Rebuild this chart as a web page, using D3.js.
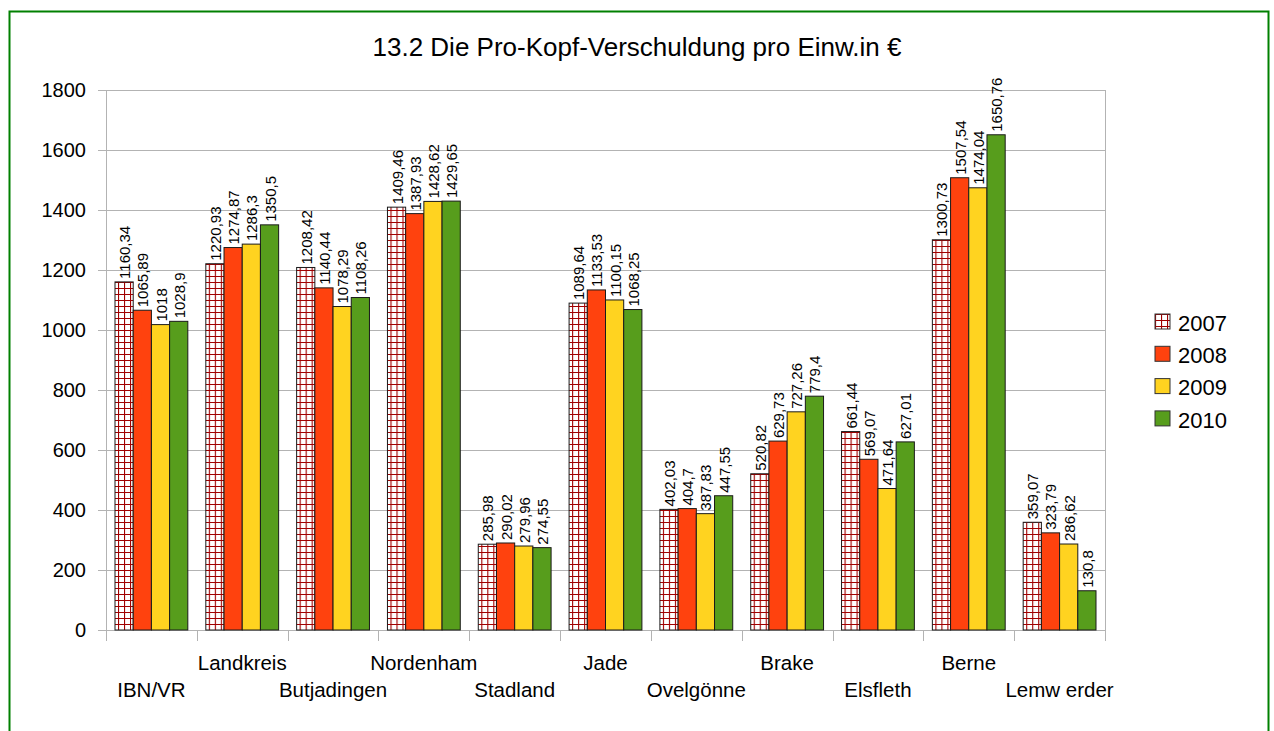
<!DOCTYPE html>
<html>
<head>
<meta charset="utf-8">
<script src="https://cdn.jsdelivr.net/npm/d3@7"></script>
<style>
  body { margin: 0; background: #fff; }
  svg { font-family: "Liberation Sans", Arial, sans-serif; }
</style>
</head>
<body>
<div id="chart"></div>
<script>
const categories = ["IBN/VR", "Landkreis", "Butjadingen", "Nordenham", "Stadland", "Jade",
    "Ovelgönne", "Brake", "Elsfleth", "Berne", "Lemw erder"]
const years = ["2007", "2008", "2009", "2010"]
const values2007 = [1160.34, 1220.93, 1208.42, 1409.46, 285.98, 1089.64, 402.03, 520.82, 661.44, 1300.73, 359.07]
const values2008 = [1065.89, 1274.87, 1140.44, 1387.93, 290.02, 1133.53, 404.7, 629.73, 569.07, 1507.54, 323.79]
const values2009 = [1018, 1286.3, 1078.29, 1428.62, 279.96, 1100.15, 387.83, 727.26, 471.64, 1474.04, 286.62]
const values2010 = [1028.9, 1350.5, 1108.26, 1429.65, 274.55, 1068.25, 447.55, 779.4, 627.01, 1650.76, 130.8]
const yTicks = [0, 200, 400, 600, 800, 1000, 1200, 1400, 1600, 1800]

const series = [values2007, values2008, values2009, values2010]
const colors = ["url(#hatch)", "#ff420e", "#ffd320", "#579d1c"]

const margin = {top: 90, right: 169, bottom: 101, left: 106}
const width = 1274 - margin.left - margin.right
const height = 731 - margin.top - margin.bottom

const root = d3.select("#chart").append("svg")
    .attr("width", 1274)
    .attr("height", 731)

// hatch pattern for 2007
const pat = root.append("defs").append("pattern")
    .attr("id", "hatch")
    .attr("patternUnits", "userSpaceOnUse")
    .attr("width", 6).attr("height", 6)
pat.append("rect").attr("width", 6).attr("height", 6).attr("fill", "#fff")
pat.append("path").attr("d", "M0,0.5H6M0.5,0V6")
    .attr("stroke", "#a00000").attr("stroke-width", 1.2).attr("fill", "none")

// outer green frame
root.append("rect")
    .attr("x", 9.5).attr("y", 11.5)
    .attr("width", 1259).attr("height", 740)
    .attr("fill", "none").attr("stroke", "#008000").attr("stroke-width", 2)

root.append("text")
    .attr("x", 637).attr("y", 56)
    .attr("text-anchor", "middle")
    .style("font-size", "26px")
    .text("13.2 Die Pro-Kopf-Verschuldung pro Einw.in €")

const svg = root.append("g")
    .attr("transform", `translate(${margin.left},${margin.top})`)

const xScale = d3.scaleBand()
    .domain(categories)
    .range([0, width])

const inner = d3.scaleBand()
    .domain(years)
    .range([9, xScale.bandwidth() - 9])

const yScale = d3.scaleLinear()
    .domain([0, 1800])
    .range([height, 0])

// gridlines
svg.append("g")
    .selectAll("line")
    .data(yTicks)
    .join("line")
        .attr("x1", -8).attr("x2", width)
        .attr("y1", d => yScale(d) + 0.5).attr("y2", d => yScale(d) + 0.5)
        .attr("stroke", "#b3b3b3")

// y axis line and labels
svg.append("line")
    .attr("x1", 0.5).attr("x2", 0.5)
    .attr("y1", 0).attr("y2", height)
    .attr("stroke", "#b3b3b3")
svg.append("line")
    .attr("x1", width + 0.5).attr("x2", width + 0.5)
    .attr("y1", 0).attr("y2", height)
    .attr("stroke", "#b3b3b3")

svg.append("g")
    .selectAll("text")
    .data(yTicks)
    .join("text")
        .attr("x", -20)
        .attr("y", d => yScale(d))
        .attr("dy", "0.35em")
        .attr("text-anchor", "end")
        .style("font-size", "20px")
        .text(d => d)

// category tick marks
svg.append("g")
    .selectAll("line")
    .data(d3.range(categories.length + 1))
    .join("line")
        .attr("x1", i => Math.round(i * xScale.step()) + 0.5)
        .attr("x2", i => Math.round(i * xScale.step()) + 0.5)
        .attr("y1", height).attr("y2", height + 11)
        .attr("stroke", "#b3b3b3")

// bars
const groups = svg.append("g")
    .selectAll("g")
    .data(categories)
    .join("g")
        .attr("transform", d => `translate(${xScale(d)},0)`)

groups.selectAll("rect")
    .data((d, i) => series.map((s, j) => ({year: years[j], value: s[i], color: colors[j]})))
    .join("rect")
        .attr("x", d => inner(d.year))
        .attr("y", d => yScale(d.value))
        .attr("width", inner.bandwidth())
        .attr("height", d => height - yScale(d.value))
        .attr("fill", d => d.color)
        .attr("stroke", "#1a1a1a")
        .attr("stroke-width", 1)

// value labels, rotated
groups.selectAll("text")
    .data((d, i) => series.map((s, j) => ({year: years[j], value: s[i]})))
    .join("text")
        .attr("transform", d => `translate(${inner(d.year) + inner.bandwidth() / 2 + 6},${yScale(d.value) - 3}) rotate(-90)`)
        .style("font-size", "15px")
        .text(d => String(d.value).replace(".", ","))

// category labels, staggered
svg.append("g")
    .selectAll("text")
    .data(categories)
    .join("text")
        .attr("x", d => xScale(d) + xScale.bandwidth() / 2)
        .attr("y", (d, i) => i % 2 === 0 ? height + 67 : height + 40)
        .attr("text-anchor", "middle")
        .style("font-size", "20.5px")
        .text(d => d)

// legend
const legend = root.append("g")
    .attr("transform", "translate(1155,314)")
const item = legend.selectAll("g")
    .data(years)
    .join("g")
        .attr("transform", (d, i) => `translate(0,${i * 32.3})`)
item.append("rect")
    .attr("width", 15).attr("height", 15)
    .attr("fill", (d, i) => colors[i])
    .attr("stroke", "#333")
item.append("text")
    .attr("x", 23).attr("y", 9)
    .attr("dy", "0.35em")
    .style("font-size", "22px")
    .text(d => d)
</script>
</body>
</html>
